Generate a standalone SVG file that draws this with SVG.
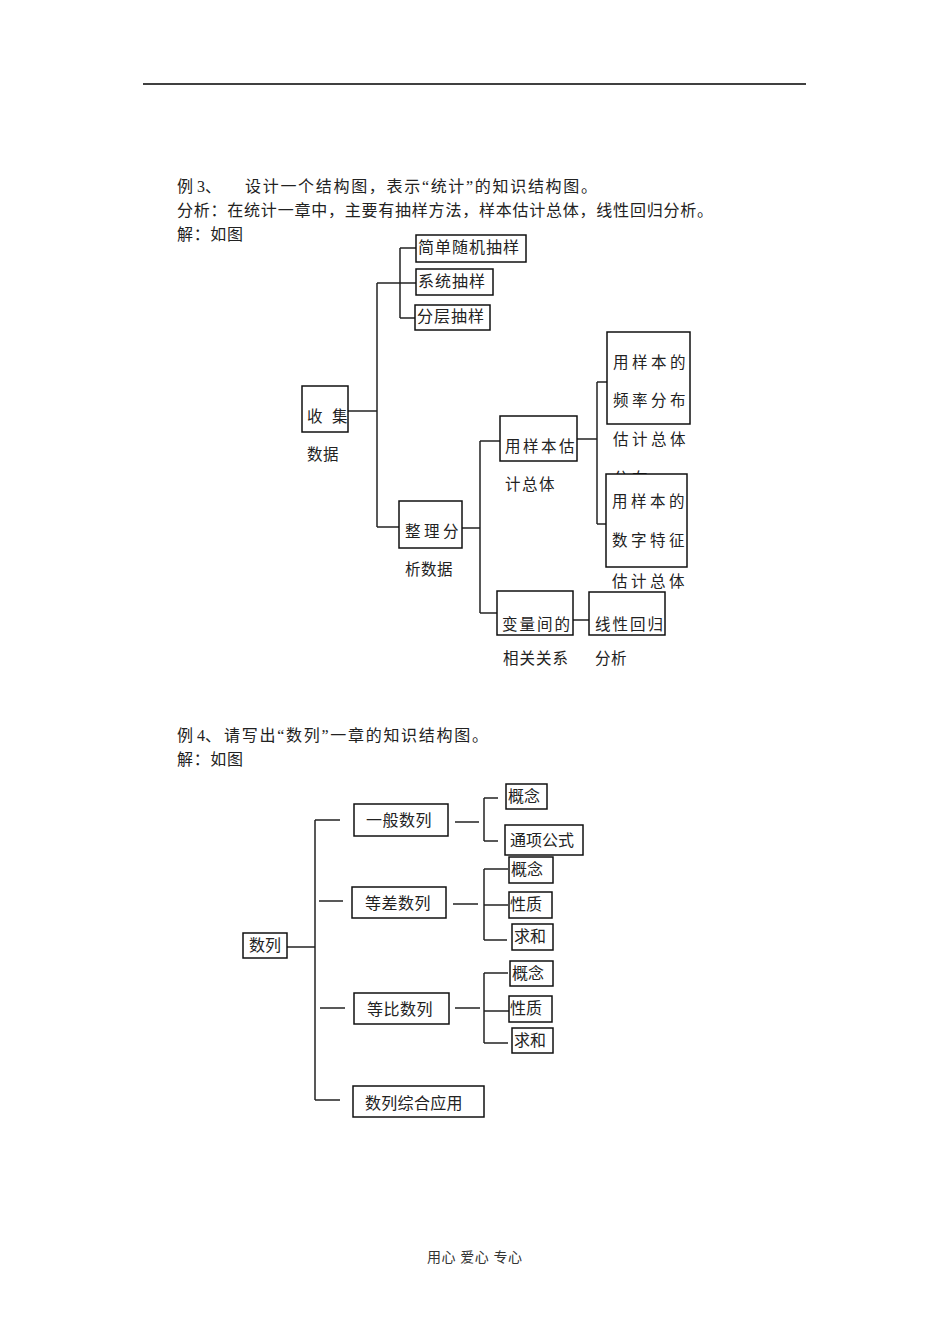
<svg xmlns="http://www.w3.org/2000/svg" width="950" height="1344" viewBox="0 0 950 1344">
<style>
text{font-family:"Liberation Serif","Noto Sans CJK SC",sans-serif;fill:#222;}
.h{font-size:16px;}
.t{font-size:16px;}
.s{font-size:15.5px;}
.box{fill:#fff;stroke:#111;stroke-width:1.5;}
.ln{stroke:#222;stroke-width:1.5;fill:none;}
.ft{font-size:14px;fill:#333;}
</style>
<rect width="950" height="1344" fill="#fff"/>
<line x1="143" y1="84" x2="806" y2="84" stroke="#000" stroke-width="1.6"/>

<g id="header1">
<text class="h" x="177" y="192">例 3、</text>
<text class="h" x="245" y="192" textLength="352" lengthAdjust="spacing">设计一个结构图，表示“统计”的知识结构图。</text>
<text class="h" x="177" y="216" textLength="536" lengthAdjust="spacing">分析：在统计一章中，主要有抽样方法，样本估计总体，线性回归分析。</text>
<text class="h" x="177" y="240" textLength="66" lengthAdjust="spacing">解：如图</text>
</g>

<g id="connectors1">
<line class="ln" x1="400" y1="248" x2="400" y2="318"/>
<line class="ln" x1="400" y1="248" x2="416" y2="248"/>
<line class="ln" x1="400" y1="283" x2="416" y2="283"/>
<line class="ln" x1="400" y1="318" x2="415" y2="318"/>
<line class="ln" x1="377" y1="283" x2="400" y2="283"/>
<line class="ln" x1="377" y1="283" x2="377" y2="527"/>
<line class="ln" x1="348" y1="411" x2="377" y2="411"/>
<line class="ln" x1="377" y1="527" x2="399" y2="527"/>
<line class="ln" x1="462" y1="528" x2="480" y2="528"/>
<line class="ln" x1="480" y1="441" x2="480" y2="613"/>
<line class="ln" x1="480" y1="441" x2="500" y2="441"/>
<line class="ln" x1="480" y1="613" x2="497" y2="613"/>
<line class="ln" x1="577" y1="439" x2="597" y2="439"/>
<line class="ln" x1="597" y1="382" x2="597" y2="524"/>
<line class="ln" x1="597" y1="382" x2="607" y2="382"/>
<line class="ln" x1="597" y1="524" x2="606" y2="524"/>
<line class="ln" x1="573" y1="620" x2="589" y2="620"/>
</g>

<g id="n-jiandan">
<rect class="box" x="416" y="235" width="110" height="27"/>
<text class="t" x="418" y="253" letter-spacing="1">简单随机抽样</text>
</g>
<g id="n-xitong">
<rect class="box" x="416" y="269" width="77" height="26"/>
<text class="t" x="418" y="287" letter-spacing="1">系统抽样</text>
</g>
<g id="n-fenceng">
<rect class="box" x="415" y="305" width="75" height="25"/>
<text class="t" x="417" y="322" letter-spacing="1">分层抽样</text>
</g>
<g id="n-shouji">
<rect class="box" x="302" y="386" width="46" height="46"/>
<text class="s" x="307 322 332" y="422">收 集</text>
<text class="s" x="307" y="460" letter-spacing="0.5">数据</text>
</g>
<g id="n-zhengli">
<rect class="box" x="399" y="501" width="63" height="47"/>
<text class="s" x="405 424 443" y="537">整理分</text>
<text class="s" x="405" y="575" letter-spacing="0.5">析数据</text>
</g>
<g id="n-yongyangben">
<rect class="box" x="500" y="416" width="77" height="45"/>
<text class="s" x="505" y="452" letter-spacing="2.5">用样本估</text>
<text class="s" x="505" y="490" letter-spacing="1.5">计总体</text>
</g>
<g id="n-pinlv">
<rect class="box" x="607" y="332" width="83" height="92"/>
<text class="s" x="613" y="368" letter-spacing="3.5">用样本的</text>
<text class="s" x="613" y="406" letter-spacing="3.5">频率分布</text>
<text class="s" x="613" y="445" letter-spacing="3.5">估计总体</text>
<text class="s" x="613" y="484" letter-spacing="3.5">分布</text>
</g>
<g id="n-shuzi">
<rect class="box" x="606" y="474" width="81" height="93"/>
<text class="s" x="612" y="507" letter-spacing="3.5">用样本的</text>
<text class="s" x="612" y="546" letter-spacing="3.5">数字特征</text>
<text class="s" x="612" y="587" letter-spacing="3.5">估计总体</text>
</g>
<g id="n-bianliang">
<rect class="box" x="497" y="591" width="76" height="44"/>
<text class="s" x="502" y="630" letter-spacing="2">变量间的</text>
<text class="s" x="503" y="664" letter-spacing="1">相关关系</text>
</g>
<g id="n-xianxing">
<rect class="box" x="589" y="592" width="76" height="43"/>
<text class="s" x="595" y="630" letter-spacing="2">线性回归</text>
<text class="s" x="595" y="664" letter-spacing="0.5">分析</text>
</g>

<g id="header2">
<text class="h" x="177" y="741">例 4、</text>
<text class="h" x="224" y="741" textLength="264" lengthAdjust="spacing">请写出“数列”一章的知识结构图。</text>
<text class="h" x="177" y="765" textLength="66" lengthAdjust="spacing">解：如图</text>
</g>

<g id="connectors2">
<line class="ln" x1="287" y1="947" x2="315" y2="947"/>
<line class="ln" x1="315" y1="820" x2="315" y2="1100"/>
<line class="ln" x1="315" y1="820" x2="340" y2="820"/>
<line class="ln" x1="315" y1="1100" x2="340" y2="1100"/>
<line class="ln" x1="319" y1="901" x2="343" y2="901"/>
<line class="ln" x1="320" y1="1008" x2="345" y2="1008"/>
<line class="ln" x1="455" y1="822" x2="479" y2="822"/>
<line class="ln" x1="484" y1="798" x2="484" y2="841"/>
<line class="ln" x1="484" y1="798" x2="498" y2="798"/>
<line class="ln" x1="484" y1="841" x2="498" y2="841"/>
<line class="ln" x1="453" y1="904" x2="478" y2="904"/>
<line class="ln" x1="484" y1="869" x2="484" y2="940"/>
<line class="ln" x1="484" y1="869" x2="508" y2="869"/>
<line class="ln" x1="484" y1="905" x2="508" y2="905"/>
<line class="ln" x1="484" y1="940" x2="507" y2="940"/>
<line class="ln" x1="455" y1="1008" x2="480" y2="1008"/>
<line class="ln" x1="484" y1="973" x2="484" y2="1043"/>
<line class="ln" x1="484" y1="973" x2="508" y2="973"/>
<line class="ln" x1="484" y1="1011" x2="510" y2="1011"/>
<line class="ln" x1="484" y1="1043" x2="508" y2="1043"/>
</g>

<g id="m-shulie">
<rect class="box" x="243" y="933" width="44" height="25"/>
<text class="t" x="249" y="951">数列</text>
</g>
<g id="m-yiban">
<rect class="box" x="354" y="804" width="94" height="32"/>
<text class="t" x="366" y="826" letter-spacing="0.5">一般数列</text>
</g>
<g id="m-dengcha">
<rect class="box" x="352" y="887" width="94" height="31"/>
<text class="t" x="365" y="909" letter-spacing="0.5">等差数列</text>
</g>
<g id="m-dengbi">
<rect class="box" x="354" y="993" width="95" height="31"/>
<text class="t" x="367" y="1015" letter-spacing="0.5">等比数列</text>
</g>
<g id="m-zonghe">
<rect class="box" x="353" y="1086" width="131" height="31"/>
<text class="t" x="365" y="1109" letter-spacing="0.3">数列综合应用</text>
</g>
<g id="m-gainian1">
<rect class="box" x="506" y="784" width="41" height="25"/>
<text class="t" x="508" y="802">概念</text>
</g>
<g id="m-tongxiang">
<rect class="box" x="505" y="825" width="78" height="30"/>
<text class="t" x="510" y="846">通项公式</text>
</g>
<g id="m-gainian2">
<rect class="box" x="509" y="857" width="44" height="26"/>
<text class="t" x="511" y="875">概念</text>
</g>
<g id="m-xingzhi2">
<rect class="box" x="509" y="892" width="43" height="26"/>
<text class="t" x="510" y="910">性质</text>
</g>
<g id="m-qiuhe2">
<rect class="box" x="512" y="924" width="41" height="26"/>
<text class="t" x="514" y="942">求和</text>
</g>
<g id="m-gainian3">
<rect class="box" x="510" y="961" width="43" height="25"/>
<text class="t" x="512" y="979">概念</text>
</g>
<g id="m-xingzhi3">
<rect class="box" x="509" y="996" width="43" height="26"/>
<text class="t" x="510" y="1014">性质</text>
</g>
<g id="m-qiuhe3">
<rect class="box" x="512" y="1028" width="41" height="25"/>
<text class="t" x="514" y="1046">求和</text>
</g>

<text class="ft" x="427" y="1262" textLength="95" lengthAdjust="spacing">用心 爱心 专心</text>
</svg>
